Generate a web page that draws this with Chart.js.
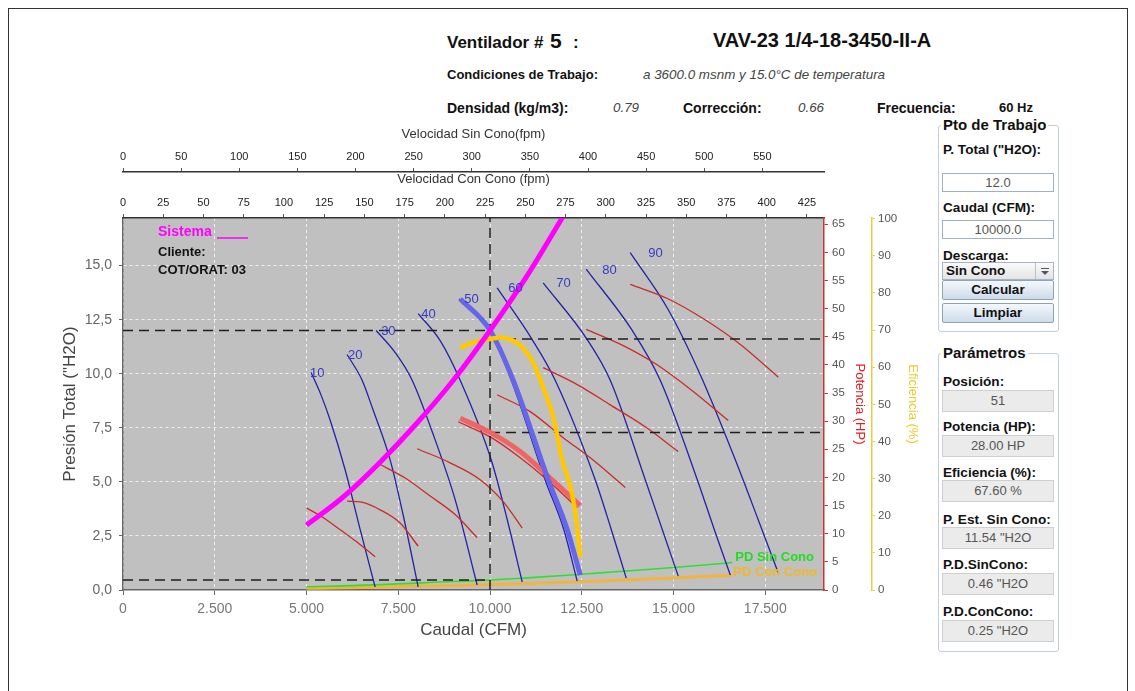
<!DOCTYPE html>
<html lang="es">
<head>
<meta charset="utf-8">
<title>Ventilador # 5</title>
<script src="https://cdn.jsdelivr.net/npm/chart.js@4.4.1/dist/chart.umd.min.js"></script>
<style>
  body { margin: 0; background: #fff; font-family: "Liberation Sans", Arial, sans-serif; color: #111; }
  .marco { position: absolute; left: 8px; top: 8px; width: 1118px; height: 700px; border: 1px solid #333; }
  .t { position: absolute; white-space: nowrap; height: 18px; line-height: 18px; }
  .b { font-weight: bold; font-size: 14px; }
  .i { font-style: italic; font-size: 13.4px; color: #444; }
  #grafico { position: absolute; left: 50px; top: 120px; }
  .grupo { position: absolute; left: 938px; width: 119px; border: 1px solid #c2cedb; border-radius: 3px; }
  .titulo { position: absolute; left: 941px; background: #fff; padding: 0 2px; font-weight: bold; font-size: 15px; line-height: 18px; white-space: nowrap; }
  .lbl { position: absolute; left: 943px; font-weight: bold; font-size: 13.6px; line-height: 16px; white-space: nowrap; }
  .caja { position: absolute; left: 942px; width: 112px; height: 22px; line-height: 20px; box-sizing: border-box; border: 1px solid #cfcfcf; background: #ebebeb; color: #555; font-size: 13px; text-align: center; }
  .entrada { background: #fff; border-color: #a5b0bd; height: 19px; line-height: 17px; }
  .boton { position: absolute; left: 942px; width: 112px; height: 20px; line-height: 18px; box-sizing: border-box; border: 1px solid #8ea2bb; border-radius: 2px; background: linear-gradient(#f4f8fc, #cddbea); font-weight: bold; font-size: 13.5px; text-align: center; }
  .combo { position: absolute; left: 942px; width: 112px; height: 18px; box-sizing: border-box; border: 1px solid #a8b4c2; background: linear-gradient(#fafafa, #e4e4e4); font-weight: bold; font-size: 13.5px; line-height: 16px; padding-left: 3px; }
  .flecha { position: absolute; right: 0; top: 0; width: 17px; height: 16px; border-left: 1px solid #b8c2ce; background: linear-gradient(#fbfbfb, #e0e4e8); }
  .flecha::before { content: ''; position: absolute; left: 5px; top: 5px; width: 8px; height: 1px; background: #555; }
  .flecha::after { content: ''; position: absolute; left: 5px; top: 8px; border-left: 4px solid transparent; border-right: 4px solid transparent; border-top: 4px solid #555; }
</style>
</head>
<body>
<div class="marco"></div>

<div class="t b" style="left:447px;top:34px;font-size:17px;">Ventilador #</div>
<div class="t b" style="left:550px;top:32px;font-size:21px;">5</div>
<div class="t b" style="left:573px;top:34px;font-size:17px;">:</div>
<div class="t b" style="left:713px;top:31px;font-size:20px;">VAV-23 1/4-18-3450-II-A</div>
<div class="t b" style="left:447px;top:66px;font-size:13px;">Condiciones de Trabajo:</div>
<div class="t i" style="left:643px;top:66px;">a 3600.0 msnm y 15.0°C de temperatura</div>
<div class="t b" style="left:447px;top:99px;">Densidad (kg/m3):</div>
<div class="t i" style="left:613px;top:99px;">0.79</div>
<div class="t b" style="left:683px;top:99px;">Corrección:</div>
<div class="t i" style="left:798px;top:99px;">0.66</div>
<div class="t b" style="left:877px;top:99px;">Frecuencia:</div>
<div class="t b" style="left:999px;top:99px;font-size:13px;">60 Hz</div>

<div class="grupo" style="top:125px;height:205px;"></div>
<div class="titulo" style="top:116px;">Pto de Trabajo</div>
<div class="lbl" style="top:142px;">P. Total ("H2O):</div>
<div class="caja entrada" style="top:173px;">12.0</div>
<div class="lbl" style="top:200px;">Caudal (CFM):</div>
<div class="caja entrada" style="top:220px;">10000.0</div>
<div class="lbl" style="top:248px;">Descarga:</div>
<div class="combo" style="top:262px;">Sin Cono<div class="flecha"></div></div>
<div class="boton" style="top:280px;">Calcular</div>
<div class="boton" style="top:303px;">Limpiar</div>

<div class="grupo" style="top:353px;height:297px;"></div>
<div class="titulo" style="top:344px;">Parámetros</div>
<div class="lbl" style="top:374px;">Posición:</div>
<div class="caja" style="top:390px;">51</div>
<div class="lbl" style="top:419px;">Potencia (HP):</div>
<div class="caja" style="top:435px;">28.00 HP</div>
<div class="lbl" style="top:465px;">Eficiencia (%):</div>
<div class="caja" style="top:480px;">67.60 %</div>
<div class="lbl" style="top:512px;">P. Est. Sin Cono:</div>
<div class="caja" style="top:527px;">11.54 "H2O</div>
<div class="lbl" style="top:557px;">P.D.SinCono:</div>
<div class="caja" style="top:573px;">0.46 "H2O</div>
<div class="lbl" style="top:604px;">P.D.ConCono:</div>
<div class="caja" style="top:620px;">0.25 "H2O</div>

<canvas id="grafico" width="890" height="530"></canvas>

<script>
// posiciones de alabes y curvas de presion (CFM / "H2O)
const posiciones = [10, 20, 30, 40, 50, 60, 70, 80, 90];
const caudalFan = [
  [5125, 5397, 5643, 6052, 6461, 6870],
  [6106, 6515, 6815, 7279, 7660, 8042],
  [6897, 7415, 7878, 8505, 9050, 9650],
  [8042, 8642, 9187, 10032, 10468, 10877],
  [9160, 9980, 10580, 11500, 12010, 12376],
  [10195, 11149, 11776, 12866, 13303, 13712],
  [11449, 12649, 13276, 14230, 14693, 15129],
  [12621, 13875, 14638, 15647, 16110, 16547],
  [13821, 14857, 15729, 16683, 17310, 17855]
];
const presionFan = [
  [10.06, 9.01, 7.86, 5.56, 2.80, 0.14],
  [10.89, 9.70, 8.32, 6.02, 3.26, 0.14],
  [12.00, 10.98, 9.70, 6.94, 4.18, 0.23],
  [12.78, 11.53, 9.70, 6.02, 3.26, 0.37],
  [13.46, 12.00, 9.70, 5.10, 2.80, 0.41],
  [13.97, 11.58, 9.70, 5.10, 2.80, 0.55],
  [14.20, 11.58, 9.70, 5.10, 2.80, 0.64],
  [14.84, 12.00, 9.70, 5.10, 2.80, 0.69],
  [15.60, 12.96, 9.95, 6.02, 3.24, 0.79]
];

// potencia por posicion (HP)
const caudalPot = [
  [5000, 5470, 5940, 6400, 6870],
  [6106, 6500, 7006, 7551, 8042],
  [7006, 7687, 8369, 9050, 9650],
  [8015, 8914, 9732, 10359, 10877],
  [9132, 10004, 10822, 11640, 12376],
  [10195, 11095, 11967, 12867, 13685],
  [11449, 12376, 13276, 14230, 15129],
  [12621, 13575, 14530, 15511, 16492],
  [13821, 14830, 15838, 16847, 17855]
];
const potenciaPot = [
  [14.6, 12.8, 10.6, 8.4, 5.9],
  [15.8, 15.6, 14.25, 11.9, 7.8],
  [22.3, 19.9, 16.7, 13.4, 9.3],
  [25.1, 22.6, 19.6, 15.7, 11.0],
  [29.9, 27.2, 23.5, 19.1, 14.6],
  [34.7, 31.7, 27.2, 22.8, 18.2],
  [39.5, 36.5, 32.9, 29.0, 24.6],
  [46.3, 43.6, 40.1, 35.4, 30.1],
  [54.3, 51.8, 48.1, 43.5, 37.8]
];

// posicion 51 (punto de trabajo)
const caudal51 = [9187, 10004, 10631, 11585, 12103, 12458];
const presion51 = [13.46, 12.0, 9.7, 5.1, 2.8, 0.69];
const caudalPot51 = [9187, 10004, 10822, 11640, 12458];
const potencia51 = [30.5, 28.0, 24.6, 19.9, 15.0];
const caudalEf51 = [9187, 9596, 10004, 10300, 10600, 10900, 11177, 11450, 11722, 11967, 12185, 12322, 12458];
const eficiencia51 = [65.3, 66.8, 67.6, 68.0, 67.3, 65.2, 61.2, 54.5, 46.6, 35.0, 28.0, 21.0, 8.9];

// curva del sistema y presiones dinamicas
const caudalSistema = [5000, 6000, 7000, 8000, 9000, 10000, 11000, 12000];
const presionSistema = [3.0, 4.3, 5.9, 7.7, 9.7, 12.0, 14.5, 17.3];
const caudalPD = [5000, 6000, 7000, 8000, 9000, 10000, 11000, 12000, 13000, 14000, 15000, 16000, 16600];
const pdSinCono = [0.15, 0.19, 0.25, 0.32, 0.39, 0.46, 0.56, 0.67, 0.79, 0.91, 1.04, 1.18, 1.27];
const pdConCono = [0.08, 0.10, 0.13, 0.17, 0.21, 0.25, 0.30, 0.36, 0.42, 0.49, 0.56, 0.64, 0.68];

const ptoCaudal = 10000;
const ptoPresion = 12.0;
const ptoPotencia = 28.0;
const ptoEficiencia = 67.6;
const ptoPDSin = 0.46;

// ticks y rangos de ejes
const ticksCaudal = [0, 2500, 5000, 7500, 10000, 12500, 15000, 17500];
const ticksPresion = [0, 2.5, 5, 7.5, 10, 12.5, 15];
const ticksSinCono = [0, 50, 100, 150, 200, 250, 300, 350, 400, 450, 500, 550];
const ticksConCono = [0, 25, 50, 75, 100, 125, 150, 175, 200, 225, 250, 275, 300, 325, 350, 375, 400, 425];
const ticksPotencia = [0, 5, 10, 15, 20, 25, 30, 35, 40, 45, 50, 55, 60, 65];
const ticksEficiencia = [0, 10, 20, 30, 40, 50, 60, 70, 80, 90, 100];
const maxCaudal = 19100;
const maxPresion = 17.2;
const maxSinCono = 603;
const maxConCono = 435.6;
const maxPotencia = 66.1;
const maxEficiencia = 100.2;

Chart.defaults.font.family = '"Liberation Sans", Arial, sans-serif';

const pts = (xs, ys) => xs.map((x, i) => ({ x, y: ys[i] }));

const linea = (data, color, ancho, eje, orden, extra) => Object.assign({
  data, borderColor: color, borderWidth: ancho,
  xAxisID: 'x', yAxisID: eje, pointRadius: 0, fill: false,
  cubicInterpolationMode: 'monotone', order: orden
}, extra || {});

const discontinua = (data, eje) => linea(data, '#1e1e1e', 1.5, eje, 5, {
  borderDash: [10, 6], cubicInterpolationMode: 'default', tension: 0
});

const datasets = [];
posiciones.forEach((p, i) => {
  datasets.push(linea(pts(caudalFan[i], presionFan[i]), '#2222a6', 1.3, 'y', 7));
  datasets.push(linea(pts(caudalPot[i], potenciaPot[i]), '#cc2a2a', 1.3, 'hp', 6));
});
datasets.push(linea(pts(caudalPD, pdSinCono), '#2ee02e', 1.6, 'y', 8));
datasets.push(linea(pts(caudalPD, pdConCono), '#f2b43a', 3, 'y', 9));
datasets.push(linea(pts(caudal51, presion51), '#6666e8', 5, 'y', 3));
datasets.push(linea(pts(caudalPot51, potencia51), '#f06464', 5, 'hp', 4));
datasets.push(linea(pts(caudalEf51, eficiencia51), '#ffc800', 4.5, 'ef', 2));
datasets.push(linea(pts(caudalSistema, presionSistema), '#ff00ff', 5, 'y', 1, { clip: 0 }));
datasets.push(discontinua([{ x: 0, y: ptoPresion }, { x: ptoCaudal, y: ptoPresion }], 'y'));
datasets.push(discontinua([{ x: 0, y: ptoPDSin }, { x: ptoCaudal, y: ptoPDSin }], 'y'));
datasets.push(discontinua([{ x: ptoCaudal, y: 0 }, { x: ptoCaudal, y: maxPresion }], 'y'));
datasets.push(discontinua([{ x: ptoCaudal, y: ptoPotencia }, { x: maxCaudal, y: ptoPotencia }], 'hp'));
datasets.push(discontinua([{ x: ptoCaudal, y: ptoEficiencia }, { x: maxCaudal, y: ptoEficiencia }], 'ef'));

const fijarTicks = (lista) => (s) => { s.ticks = lista.map(v => ({ value: v })); };

// fondo gris del area de trazado
const fondo = {
  id: 'fondo',
  beforeDraw(chart) {
    const { ctx, chartArea: a } = chart;
    ctx.save();
    ctx.fillStyle = '#c0c0c0';
    ctx.fillRect(a.left, a.top, a.right - a.left, a.bottom - a.top);
    ctx.restore();
  }
};

// textos dentro del grafico
const desplaz = [-1, 1, 5, 3, 5, 11, 13, 16, 18];
const rotulos = {
  id: 'rotulos',
  afterDatasetsDraw(chart) {
    const { ctx, chartArea: a, scales } = chart;
    const sx = scales.x, sy = scales.y;
    ctx.save();
    ctx.textBaseline = 'middle';
    ctx.textAlign = 'left';

    ctx.font = '13px "Liberation Sans", Arial, sans-serif';
    ctx.fillStyle = '#3838c4';
    posiciones.forEach((pos, i) => {
      const x = sx.getPixelForValue(caudalFan[i][0]) + desplaz[i];
      const y = sy.getPixelForValue(presionFan[i][0]) + 1;
      ctx.fillText(String(pos), x, y);
    });

    ctx.font = 'bold 14px "Liberation Sans", Arial, sans-serif';
    ctx.fillStyle = '#ff00ff';
    ctx.fillText('Sistema', a.left + 35, a.top + 14);
    ctx.strokeStyle = '#ff00ff';
    ctx.lineWidth = 1.5;
    ctx.beginPath();
    ctx.moveTo(a.left + 94, a.top + 20);
    ctx.lineTo(a.left + 125, a.top + 20);
    ctx.stroke();

    ctx.font = 'bold 13px "Liberation Sans", Arial, sans-serif';
    ctx.fillStyle = '#111';
    ctx.fillText('Cliente:', a.left + 35, a.top + 34);
    ctx.fillText('COT/ORAT: 03', a.left + 35, a.top + 52);

    const n = caudalPD.length - 1;
    ctx.fillStyle = '#22dd22';
    ctx.fillText('PD Sin Cono', sx.getPixelForValue(caudalPD[n]) + 3, sy.getPixelForValue(pdSinCono[n]) - 5);
    ctx.fillStyle = '#f0b828';
    ctx.fillText('PD Con Cono', sx.getPixelForValue(caudalPD[n]) + 1, sy.getPixelForValue(pdConCono[n]) - 3);
    ctx.restore();
  }
};

const ejeSup = (max, lista, titulo, alto, peso, padTitulo) => ({
  type: 'linear', position: 'top', min: 0, max, weight: peso,
  afterBuildTicks: fijarTicks(lista),
  afterFit: s => { s.height = alto; },
  ticks: { color: '#222', font: { size: 11 }, padding: 4, maxRotation: 0, autoSkip: false },
  grid: { drawOnChartArea: false, tickLength: 4, tickColor: '#555' },
  border: { color: '#333', width: 1.5 },
  title: { display: true, text: titulo, color: '#333', font: { size: 13 }, padding: { top: padTitulo, bottom: 0 } }
});

const ejeDer = (max, lista, titulo, color, colorTitulo, peso, tl, pad, padTitulo) => ({
  type: 'linear', position: 'right', min: 0, max, weight: peso,
  afterBuildTicks: fijarTicks(lista),
  afterFit: s => { s.width = 48; },
  ticks: { color: '#555', font: { size: 11.5 }, padding: pad },
  grid: { drawOnChartArea: false, tickLength: tl, tickColor: color },
  border: { color, width: 1.5 },
  title: { display: true, text: titulo, color: colorTitulo, font: { size: 13 }, padding: { top: padTitulo, bottom: 0 } }
});

new Chart(document.getElementById('grafico'), {
  type: 'line',
  data: { datasets },
  plugins: [fondo, rotulos],
  options: {
    responsive: false,
    animation: false,
    devicePixelRatio: 1,
    layout: { padding: { left: 0, right: 20, top: 5, bottom: 5 } },
    plugins: { legend: { display: false }, tooltip: { enabled: false } },
    scales: {
      x: {
        type: 'linear', position: 'bottom', min: 0, max: maxCaudal,
        afterBuildTicks: fijarTicks(ticksCaudal),
        afterFit: s => { s.height = 55; },
        ticks: { color: '#777', font: { size: 14 }, padding: 6, maxRotation: 0, autoSkip: false,
          callback: v => v === 0 ? '0' : (v / 1000).toFixed(3) },
        grid: { color: 'rgba(255,255,255,0.75)', tickColor: '#666', tickLength: 5 },
        border: { color: '#666', width: 1.5, dash: [3, 3] },
        title: { display: true, text: 'Caudal (CFM)', color: '#444', font: { size: 17 }, padding: { top: 0, bottom: 4 } }
      },
      y: {
        type: 'linear', position: 'left', min: 0, max: maxPresion,
        afterBuildTicks: fijarTicks(ticksPresion),
        afterFit: s => { s.width = 73; },
        ticks: { color: '#666', font: { size: 14 }, padding: 7,
          callback: v => v.toFixed(1).replace('.', ',') },
        grid: { color: 'rgba(255,255,255,0.75)', tickColor: '#666', tickLength: 4 },
        border: { color: '#666', width: 1.5, dash: [3, 3] },
        title: { display: true, text: 'Presión Total ("H2O)', color: '#444', font: { size: 17 }, padding: { top: 10, bottom: 0 } }
      },
      xc: ejeSup(maxConCono, ticksConCono, 'Velocidad Con Cono (fpm)', 46, 0, 0),
      xs: ejeSup(maxSinCono, ticksSinCono, 'Velocidad Sin Cono(fpm)', 47, 1, 2),
      hp: ejeDer(maxPotencia, ticksPotencia, 'Potencia (HP)', '#cc3333', '#dd2222', 0, 4, 4, 5),
      ef: ejeDer(maxEficiencia, ticksEficiencia, 'Eficiencia (%)', '#e2d040', '#e8cc30', 1, 3, 3, 0)
    }
  }
});
</script>
</body>
</html>
